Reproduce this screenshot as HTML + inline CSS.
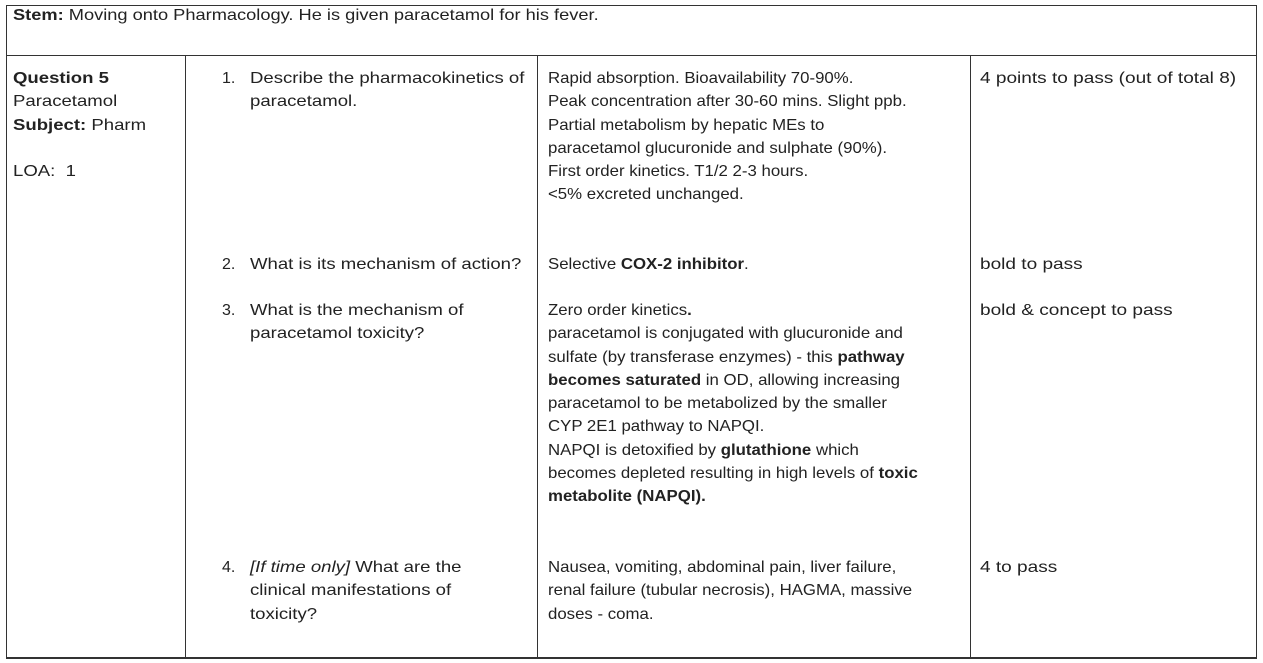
<!DOCTYPE html>
<html><head><meta charset="utf-8"><style>
html,body{margin:0;padding:0;background:#fff;}
body{width:1263px;height:663px;position:relative;overflow:hidden;font-family:"Liberation Sans",Arial,sans-serif;font-size:16px;color:#222;}
.ln{position:absolute;background:#333;}
.t{position:absolute;line-height:23.3px;white-space:nowrap;transform-origin:0 0;}
.s1{transform:scaleX(1.14);}
.s2{transform:scaleX(1.16);}
.s3{transform:scaleX(1.05);}
.s4{transform:scaleX(1.19);}
b{font-weight:bold;}
</style></head><body>
<div class="ln" style="left:6px;top:5px;width:1251px;height:1px"></div>
<div class="ln" style="left:6px;top:657px;width:1251px;height:1.5px"></div>
<div class="ln" style="left:6px;top:5px;width:1px;height:653px"></div>
<div class="ln" style="left:1256px;top:5px;width:1px;height:653px"></div>
<div class="ln" style="left:6px;top:55px;width:1251px;height:1px"></div>
<div class="ln" style="left:185px;top:55px;width:1px;height:603px"></div>
<div class="ln" style="left:537px;top:55px;width:1px;height:603px"></div>
<div class="ln" style="left:970px;top:55px;width:1px;height:603px"></div>

<div class="t s1" style="left:13px;top:4px"><b>Stem:</b> Moving onto Pharmacology. He is given paracetamol for his fever.</div>

<div class="t s2" style="left:13px;top:67px"><b>Question 5</b><br>Paracetamol<br><b>Subject:</b> Pharm<br><br>LOA:&nbsp; 1</div>

<div class="t" style="left:222px;top:67px">1.</div>
<div class="t s2" style="left:250px;top:67px">Describe the pharmacokinetics of<br>paracetamol.</div>
<div class="t" style="left:222px;top:253px">2.</div>
<div class="t s2" style="left:250px;top:253px">What is its mechanism of action?</div>
<div class="t" style="left:222px;top:299px">3.</div>
<div class="t s2" style="left:250px;top:299px">What is the mechanism of<br>paracetamol toxicity?</div>
<div class="t" style="left:222px;top:556px">4.</div>
<div class="t s2" style="left:250px;top:556px"><i>[If time only]</i> What are the<br>clinical manifestations of<br>toxicity?</div>

<div class="t s3" style="left:548px;top:67px">Rapid absorption. Bioavailability 70-90%.<br>Peak concentration after 30-60 mins. Slight ppb.<br>Partial metabolism by hepatic MEs to<br>paracetamol glucuronide and sulphate (90%).<br>First order kinetics. T1/2 2-3 hours.<br>&lt;5% excreted unchanged.</div>
<div class="t s3" style="left:548px;top:253px">Selective <b>COX-2 inhibitor</b>.</div>
<div class="t s3" style="left:548px;top:299px">Zero order kinetics<b>.</b><br>paracetamol is conjugated with glucuronide and<br>sulfate (by transferase enzymes) - this <b>pathway</b><br><b>becomes saturated</b> in OD, allowing increasing<br>paracetamol to be metabolized by the smaller<br>CYP 2E1 pathway to NAPQI.<br>NAPQI is detoxified by <b>glutathione</b> which<br>becomes depleted resulting in high levels of <b>toxic</b><br><b>metabolite (NAPQI).</b></div>
<div class="t s3" style="left:548px;top:556px">Nausea, vomiting, abdominal pain, liver failure,<br>renal failure (tubular necrosis), HAGMA, massive<br>doses - coma.</div>

<div class="t s4" style="left:980px;top:67px">4 points to pass (out of total 8)</div>
<div class="t s4" style="left:980px;top:253px">bold to pass</div>
<div class="t s4" style="left:980px;top:299px">bold &amp; concept to pass</div>
<div class="t s4" style="left:980px;top:556px">4 to pass</div>
</body></html>
